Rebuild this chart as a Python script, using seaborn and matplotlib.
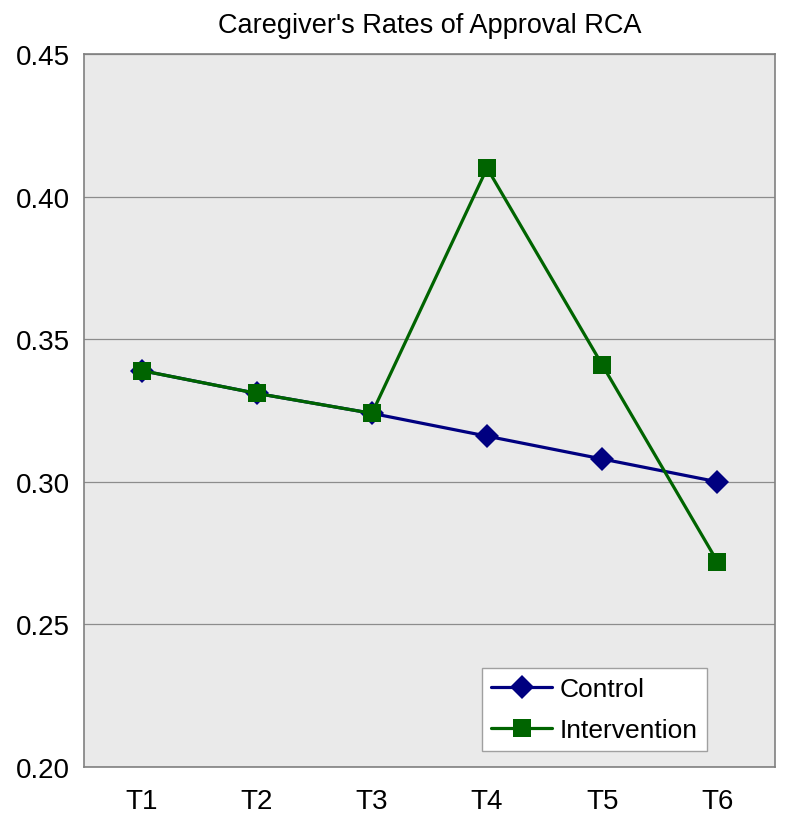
import pandas as pd
import seaborn as sns
import matplotlib.pyplot as plt
import numpy as np

# values
times = ["T1", "T2", "T3", "T4", "T5", "T6"]
control = [0.339, 0.331, 0.324, 0.316, 0.308, 0.300]
intervention = [0.339, 0.331, 0.324, 0.410, 0.341, 0.272]

records = []
for t, c, i in zip(times, control, intervention):
    records.append({'time': t, 'group': 'Control', 'rate': c})
    records.append({'time': t, 'group': 'Intervention', 'rate': i})
df = pd.DataFrame(records)
df['pos'] = df['time'].map({t: k for k, t in enumerate(times)})

sns.set_style("white")
plt.rcParams['font.family'] = ['Liberation Sans', 'DejaVu Sans']
plt.rcParams['text.color'] = 'black'
plt.rcParams['xtick.color'] = 'black'
plt.rcParams['ytick.color'] = 'black'

palette = {'Control': '#000080', 'Intervention': '#006400'}
markers = {'Control': 'D', 'Intervention': 's'}

fig = plt.figure(figsize=(7.88, 8.29), dpi=100)
ax = fig.add_axes([84 / 788, 1 - 768 / 829, (775 - 84) / 788, (768 - 55) / 829])
ax.set_facecolor('#EAEAEA')

sns.lineplot(data=df, x='pos', y='rate', hue='group', style='group',
             markers=markers, dashes=False, palette=palette, linewidth=2.3,
             markersize=12.5, markeredgewidth=0, ax=ax)

ax.set_xlim(-0.5, 5.5)
ax.set_ylim(0.20, 0.45)
ax.set_yticks(np.arange(0.20, 0.451, 0.05))
ax.set_yticklabels([f"{v:.2f}" for v in np.arange(0.20, 0.451, 0.05)], fontsize=20)
ax.set_xticks(range(len(times)))
ax.set_xticklabels(times, fontsize=20)
ax.set_xticks(np.arange(-0.5, 5.6, 1), minor=True)
ax.tick_params(axis='x', which='major', length=0, pad=15, labelcolor='black')
ax.tick_params(axis='x', which='minor', length=7, width=1, color='#808080', direction='out')
ax.tick_params(axis='y', length=7, width=1, color='#808080', direction='out', pad=3,
               labelcolor='black')
ax.yaxis.grid(True, color='#8C8C8C', linewidth=0.9)
ax.set_axisbelow(True)
for s in ax.spines.values():
    s.set_color('#808080')
    s.set_linewidth(1.2)

ax.set_xlabel('')
ax.set_ylabel('')
ax.set_title("Caregiver's Rates of Approval RCA", fontsize=19.5, pad=16, color='black')

leg = ax.legend(loc='lower right', bbox_to_anchor=(0.902, 0.022), fontsize=19,
                frameon=True, fancybox=False, framealpha=1, edgecolor='#A0A0A0',
                handlelength=2.3, handletextpad=0.3, borderpad=0.35, labelspacing=0.65,
                borderaxespad=0)
leg.get_frame().set_linewidth(1.0)

fig.savefig('out.png', dpi=100)
